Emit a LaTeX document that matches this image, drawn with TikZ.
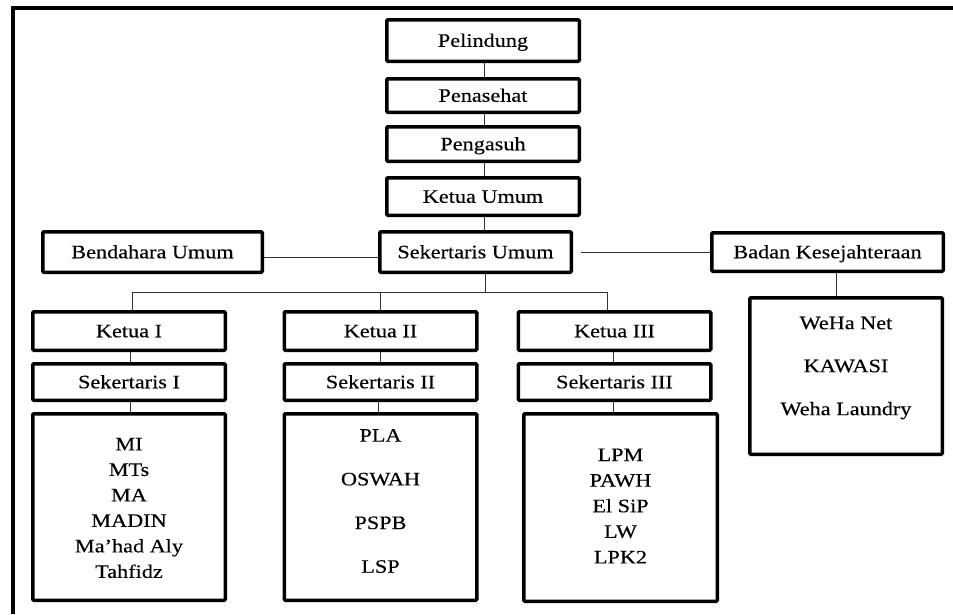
\documentclass[tikz,border=0pt]{standalone}
\usepackage{fontspec}
\setmainfont{Liberation Serif}[FakeStretch=1.17,FakeBold=0.25]
\begin{document}
\begin{tikzpicture}[x=1pt,y=-1pt,
  box/.style={draw=black,line width=3.5pt,rounded corners=1pt,fill=white,
    inner sep=0pt,font=\fontsize{19}{23}\selectfont,
    text height=16.5pt,text depth=4pt},
  listtext/.style={align=center,inner sep=0pt},
  conn/.style={draw=black!80,line width=0.9pt}]
\useasboundingbox (0,0) rectangle (953,614);
\fill[white] (0,0) rectangle (953,614);
% frame
\draw[line width=4pt] (13,614) -- (13,8) -- (953,8);

% top column
\node[box,minimum width=192.5pt,minimum height=41.5pt] (pel) at (483,40.5) {Pelindung};
\node[box,minimum width=192.5pt,minimum height=33.5pt] (pen) at (483,95.5) {Penasehat};
\node[box,minimum width=192.5pt,minimum height=34.5pt] (pg) at (483,144) {Pengasuh};
\node[box,minimum width=192.5pt,minimum height=37.5pt] (ku) at (483,196.5) {Ketua Umum};

% second row
\node[box,minimum width=219.5pt,minimum height=40.5pt] (bu) at (152.5,252) {Bendahara Umum};
\node[box,minimum width=191.5pt,minimum height=40.5pt] (su) at (475.5,252) {Sekertaris Umum};
\node[box,minimum width=231.5pt,minimum height=38.5pt] (bk) at (827.5,252) {Badan Kesejahteraan};
\node[box,minimum width=192.5pt,minimum height=156.5pt] (wh) at (846,376) {};

% third row
\node[box,minimum width=192.5pt,minimum height=38.5pt] (k1) at (129,331) {Ketua I};
\node[box,minimum width=192.5pt,minimum height=36.5pt] (s1) at (129,382) {Sekertaris I};
\node[box,minimum width=192.5pt,minimum height=186.5pt] (b1) at (129,507) {};

\node[box,minimum width=192.5pt,minimum height=38.5pt] (k2) at (380.5,331) {Ketua II};
\node[box,minimum width=192.5pt,minimum height=36.5pt] (s2) at (380.5,382) {Sekertaris II};
\node[box,minimum width=192.5pt,minimum height=186.5pt] (b2) at (380.5,507) {};

\node[box,minimum width=192.5pt,minimum height=38.5pt] (k3) at (614.5,331) {Ketua III};
\node[box,minimum width=192.5pt,minimum height=36.5pt] (s3) at (614.5,382) {Sekertaris III};
\node[box,minimum width=193.5pt,minimum height=187.5pt] (b3) at (620.5,507.5) {};

% list texts
\node[listtext,font=\fontsize{19}{25.5}\selectfont] (t1) at (129,508)
  {MI\\MTs\\MA\\MADIN\\Ma’had Aly\\Tahfidz};
\node[listtext,font=\fontsize{19}{43.7}\selectfont] (t2) at (380.5,501)
  {PLA\\OSWAH\\PSPB\\LSP};
\node[listtext,font=\fontsize{19}{25.6}\selectfont] (t3) at (620.5,506)
  {LPM\\PAWH\\El SiP\\LW\\LPK2};
\node[listtext,font=\fontsize{19}{43}\selectfont] (t4) at (846,368)
  {WeHa Net\\KAWASI\\Weha Laundry};

% connectors
\draw[conn] ([xshift=1pt]pel.south) -- ([xshift=1pt]pen.north);
\draw[conn] ([xshift=1pt]pen.south) -- ([xshift=1pt]pg.north);
\draw[conn] ([xshift=1pt]pg.south) -- ([xshift=1pt]ku.north);
\draw[conn] ([xshift=1pt]ku.south) -- ([xshift=1pt]ku.south |- su.north);
\draw[conn] ([yshift=-5pt]bu.east) -- ([yshift=-5pt]su.west);
\draw[conn] ([xshift=8pt]su.east) -- (bk.west);
\draw[conn] ([xshift=8.5pt]bk.south) -- ([xshift=8.5pt]bk.south |- wh.north);

\coordinate (bus) at (0,292);
\draw[conn] ([xshift=9.5pt]su.south) -- ([xshift=9.5pt]su.south |- bus);
\draw[conn] ([xshift=3pt]k1.north) -- ([xshift=3pt]k1.north |- bus)
  -- ([xshift=-7.5pt]k3.north |- bus) -- ([xshift=-7.5pt]k3.north);
\draw[conn] (k2.north) -- (k2.north |- bus);

\draw[conn] ([xshift=1pt]k1.south) -- ([xshift=1pt]s1.north);
\draw[conn] ([xshift=1pt]s1.south) -- ([xshift=1pt]b1.north);
\draw[conn] (k2.south) -- (s2.north);
\draw[conn] ([xshift=-2pt]s2.south) -- ([xshift=-2pt]s2.south |- b2.north);
\draw[conn] ([xshift=-1.5pt]k3.south) -- ([xshift=-1.5pt]s3.north);
\draw[conn] ([xshift=-1.5pt]s3.south) -- ([xshift=-1.5pt]s3.south |- b3.north);
\end{tikzpicture}
\end{document}
